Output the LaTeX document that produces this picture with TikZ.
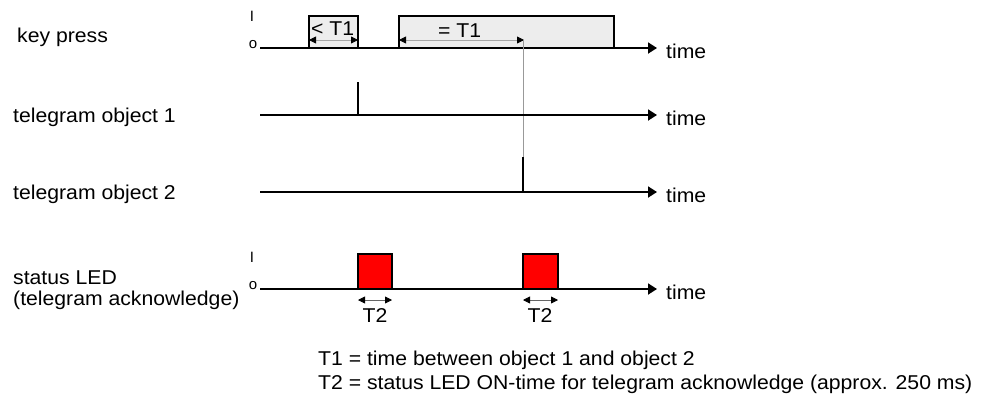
\documentclass[tikz,border=0pt]{standalone}
\usepackage{fontspec}
\setmainfont{Liberation Sans}
\usetikzlibrary{arrows.meta}
\newcommand\hstretch[1]{\scalebox{1.06}[1]{#1}}
\begin{document}
\begin{tikzpicture}[x=1pt,y=-1pt,
  lbl/.style={anchor=base west,inner sep=0pt,font=\fontsize{20}{24}\selectfont},
  small/.style={anchor=base,inner sep=0pt,font=\fontsize{15}{16}\selectfont},
  axis/.style={line width=1.8pt,-{Triangle[length=9pt,width=11pt]}},
  sig/.style={line width=1.8pt},
  keybox/.style={draw,line width=1.6pt,fill=black!7},
  ledbox/.style={draw,line width=1.6pt,fill=red},
  dim/.style={draw=black!35,line width=0.8pt,{Triangle[length=7pt,width=7pt,color=black]}-{Triangle[length=7pt,width=7pt,color=black]}},
  guide/.style={draw=black!40,line width=0.8pt}]
\useasboundingbox (0,0) rectangle (985,397);
% left labels
\node[lbl] (lkey) at (17,42) {\hstretch{key press}};
\node[lbl] (lt1) at (13,122) {\hstretch{telegram object 1}};
\node[lbl] (lt2) at (13,199) {\hstretch{telegram object 2}};
\node[lbl] (lled) at (13,284) {\hstretch{status LED}};
\node[lbl] (lack) at (13,305) {\hstretch{(telegram acknowledge)}};
% level labels
\node[small] (i1) at (252,21) {I};
\node[small] (o1) at (253,48) {o};
\node[small] (i2) at (252,262) {I};
\node[small] (o2) at (253,289) {o};
% key press row
\coordinate (ka) at (260,48);
\coordinate (kb) at (657,48);
\draw[keybox] (309,48) rectangle (358,16);
\draw[keybox] (399,48) rectangle (614,16);
\draw[axis] (ka) -- (kb);
\node[lbl] (tk) at (666,58) {\hstretch{time}};
\node[lbl] (lt1a) at (311,35) {\hstretch{< T1}};
\node[lbl] (lt1b) at (438,37) {\hstretch{= T1}};
\coordinate (d1a) at (309,40);
\coordinate (d1b) at (358,40);
\coordinate (d2a) at (399,40);
\coordinate (d2b) at (524,40);
\draw[dim] (d1a) -- (d1b);
\draw[dim] (d2a) -- (d2b);
% guide line
\coordinate (g1) at (523,40);
\coordinate (g2) at (523,157);
\draw[guide] (g1) -- (g2);
% telegram object 1
\coordinate (t1a) at (260,115);
\coordinate (t1b) at (657,115);
\draw[axis] (t1a) -- (t1b);
\node[lbl] (tt1) at (666,125) {\hstretch{time}};
\coordinate (p1a) at (358,115);
\coordinate (p1b) at (358,82);
\draw[sig] (p1a) -- (p1b);
% telegram object 2
\coordinate (t2a) at (260,192);
\coordinate (t2b) at (657,192);
\draw[axis] (t2a) -- (t2b);
\node[lbl] (tt2) at (666,202) {\hstretch{time}};
\coordinate (p2a) at (523,192);
\coordinate (p2b) at (523,157);
\draw[sig] (p2a) -- (p2b);
% status LED
\draw[ledbox] (358,289) rectangle (392,254);
\draw[ledbox] (523,289) rectangle (558,254);
\coordinate (sa) at (260,289);
\coordinate (sb) at (657,289);
\draw[axis] (sa) -- (sb);
\node[lbl] (ts) at (666,299) {\hstretch{time}};
\coordinate (e1a) at (358,300);
\coordinate (e1b) at (392,300);
\coordinate (e2a) at (523,300);
\coordinate (e2b) at (558,300);
\draw[dim,draw=black!60] (e1a) -- (e1b);
\draw[dim,draw=black!60] (e2a) -- (e2b);
\node[lbl,anchor=base] (t2l1) at (375,322) {\hstretch{T2}};
\node[lbl,anchor=base] (t2l2) at (540,322) {\hstretch{T2}};
% legend
\node[lbl] (leg1) at (318,365) {\hstretch{T1 = time between object 1 and object 2}};
\node[lbl] (leg2) at (318,389) {\hstretch{T2 = status LED ON-time for telegram acknowledge (approx. 250 ms)}};
\end{tikzpicture}
\end{document}
